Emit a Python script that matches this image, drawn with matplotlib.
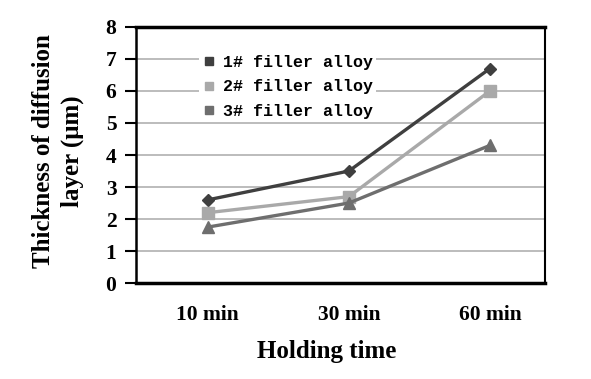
import matplotlib.pyplot as plt
from matplotlib.lines import Line2D

# Datos
tiempos = ["10 min", "30 min", "60 min"]
aleacion_1 = [2.6, 3.5, 6.7]
aleacion_2 = [2.2, 2.7, 6.0]
aleacion_3 = [1.75, 2.5, 4.3]
etiquetas = ["1# filler alloy", "2# filler alloy", "3# filler alloy"]

colores = ["#3f3f3f", "#a9a9a9", "#6e6e6e"]
marcadores = ["D", "s", "^"]
tamanos = [6, 9, 9]

serif = "Liberation Serif"

fig = plt.figure(figsize=(5.91, 3.79), dpi=100)
ax = fig.add_axes([0.230, 0.253, 0.692, 0.676])

x = list(range(len(tiempos)))
for serie, c, m, s in zip([aleacion_1, aleacion_2, aleacion_3], colores, marcadores, tamanos):
    ax.plot(x, serie, color=c, marker=m, markersize=s, linewidth=2.4, zorder=3)

ax.set_xlim(-0.51, 2.39)
ax.set_ylim(0, 8)
ax.set_yticks(range(0, 9))
ax.set_xticks(x)
ax.set_xticklabels(tiempos)
ax.yaxis.grid(True, color="#b0b0b0", linewidth=1.2)
ax.set_axisbelow(True)

for lado in ["top", "bottom"]:
    ax.spines[lado].set_linewidth(2.5)
ax.spines["left"].set_linewidth(1.8)
ax.spines["right"].set_linewidth(1.5)

ax.tick_params(axis="y", direction="out", length=8, width=1.5, pad=6)
ax.tick_params(axis="x", length=0, pad=16)
for t in ax.get_xticklabels() + ax.get_yticklabels():
    t.set_fontfamily(serif)
    t.set_fontweight("bold")
    t.set_fontsize(15.5)

# Leyenda con marcadores cuadrados
manejadores = [Line2D([], [], color=c, marker="s", linestyle="none", markersize=6) for c in colores]
leg = ax.legend(manejadores, etiquetas, loc="upper left", bbox_to_anchor=(0.135, 0.935),
                prop={"family": "Liberation Mono", "size": 12, "weight": "bold"},
                handlelength=0.8, handletextpad=0.4, labelspacing=0.55,
                frameon=True, borderpad=0.2, fancybox=False)
leg.get_frame().set_facecolor("white")
leg.get_frame().set_edgecolor("none")
leg.get_frame().set_alpha(1)

fig.text(0.073, 0.602, "Thickness of diffusion", rotation=90, ha="center", va="center",
         family=serif, weight="bold", fontsize=18)
fig.text(0.122, 0.602, "layer (μm)", rotation=90, ha="center", va="center",
         family=serif, weight="bold", fontsize=18)
fig.text(0.553, 0.072, "Holding time", ha="center", va="center",
         family=serif, weight="bold", fontsize=18)

fig.savefig("out.png", dpi=100)
